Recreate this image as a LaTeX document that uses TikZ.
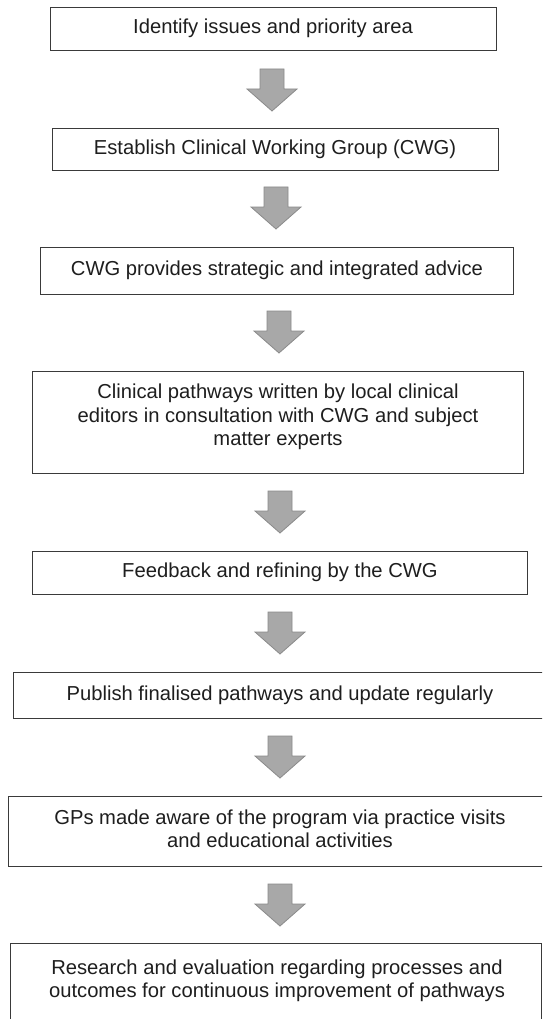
\documentclass[tikz,border=0pt]{standalone}
\usepackage{fontspec}
\setmainfont{Liberation Sans}
\definecolor{boxline}{HTML}{3A3A3A}
\definecolor{textgray}{HTML}{1E1E1E}
\definecolor{arrowfill}{HTML}{A8A8A8}
\definecolor{arrowline}{HTML}{8A8A8A}
\begin{document}
\begin{tikzpicture}[x=1pt,y=-1pt,
  stepbox/.style={draw=boxline, line width=0.9pt, inner sep=0pt, anchor=north west},
  steptext/.style={text=textgray, font=\fontsize{20.2}{23.5}\selectfont, align=center, inner sep=0pt},
  blockarrow/.pic={\path[fill=arrowfill, draw=arrowline, line width=0.8pt, line join=miter]
    (-12,0) -- (12,0) -- (12,20) -- (25,20) -- (0,42) -- (-25,20) -- (-12,20) -- cycle;}]
\useasboundingbox (0,0) rectangle (542,1019);
\fill[white] (0,0) rectangle (542,1019);
\clip (0,0) rectangle (542,1019);

% step boxes (the lower ones run past the right edge)
\node[stepbox, minimum width=446pt, minimum height=43pt]  (b1) at (50,7) {};
\node[stepbox, minimum width=446pt, minimum height=42pt]  (b2) at (52,128) {};
\node[stepbox, minimum width=473pt, minimum height=47pt]  (b3) at (40,247) {};
\node[stepbox, minimum width=491pt, minimum height=102pt] (b4) at (32,371) {};
\node[stepbox, minimum width=495pt, minimum height=43pt]  (b5) at (32,551) {};
\node[stepbox, minimum width=560pt, minimum height=46pt]  (b6) at (13,672) {};
\node[stepbox, minimum width=560pt, minimum height=70pt]  (b7) at (8,796) {};
\node[stepbox, minimum width=531pt, minimum height=110pt] (b8) at (10,943) {};

% step texts
\node[steptext] (t1) at (273,28.5) {Identify issues and priority area};
\node[steptext] (t2) at (275,149) {Establish Clinical Working Group (CWG)};
\node[steptext] (t3) at (277,270.5) {CWG provides strategic and integrated advice};
\node[steptext] (t4) at (278,417) {Clinical pathways written by local clinical\\editors in consultation with CWG and subject\\matter experts};
\node[steptext] (t5) at (280,572.5) {Feedback and refining by the CWG};
\node[steptext] (t6) at (280,695) {Publish finalised pathways and update regularly};
\node[steptext] (t7) at (280,829) {GPs made aware of the program via practice visits\\and educational activities};
\node[steptext] (t8) at (277,981) {Research and evaluation regarding processes and\\outcomes for continuous improvement of pathways};

% block arrows between the steps
\pic (a1) at (272,69)  {blockarrow};
\pic (a2) at (276,187) {blockarrow};
\pic (a3) at (279,311) {blockarrow};
\pic (a4) at (280,491) {blockarrow};
\pic (a5) at (280,612) {blockarrow};
\pic (a6) at (280,736) {blockarrow};
\pic (a7) at (280,884) {blockarrow};
\end{tikzpicture}
\end{document}
